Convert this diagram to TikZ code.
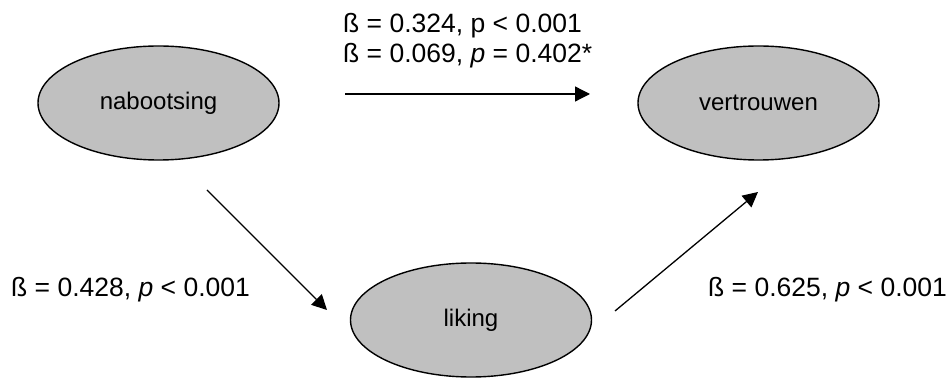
\documentclass[tikz,border=0pt]{standalone}
\usepackage{fontspec}
\setmainfont{Liberation Sans}
\usetikzlibrary{shapes.geometric,arrows.meta}
\definecolor{silverfill}{HTML}{C0C0C0}
\begin{document}
\begin{tikzpicture}[x=1pt,y=-1pt,
  latent/.style={ellipse,draw=black,fill=silverfill,line width=1.4pt,minimum width=241pt,minimum height=114pt,inner sep=0pt,font=\fontsize{24}{28}\selectfont},
  lbl/.style={anchor=base west,inner sep=0pt,font=\fontsize{26.5}{31}\selectfont},
  conn/.style={line width=1.3pt,-{Triangle[length=15pt,width=15pt]}}]
\useasboundingbox (0,0) rectangle (946,379);
\node[latent] (nab) at (158.5,103) {nabootsing};
\node[latent] (ver) at (758.5,103) {vertrouwen};
\node[latent] (lik) at (471,320) {liking};
\node[lbl] (t1) at (343,33) {ß = 0.324, p < 0.001};
\node[lbl] (t2) at (343,63) {ß = 0.069, \textit{p} = 0.402*};
\node[lbl] (l1) at (11,297) {ß = 0.428, \textit{p} < 0.001};
\node[lbl] (l2) at (708,297) {ß = 0.625, \textit{p} < 0.001};
\coordinate (a1s) at (345,94);
\coordinate (a1e) at (590,94);
\coordinate (a2s) at (207,190);
\coordinate (a2e) at (327,310);
\coordinate (a3s) at (615,311);
\coordinate (a3e) at (758,192);
\draw[conn] (a1s) -- (a1e);
\draw[conn] (a2s) -- (a2e);
\draw[conn] (a3s) -- (a3e);
\end{tikzpicture}
\end{document}
